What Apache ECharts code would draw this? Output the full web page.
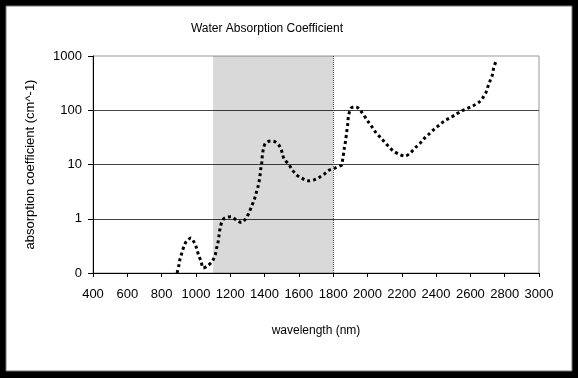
<!DOCTYPE html>
<html>
<head>
<meta charset="utf-8">
<title>Water Absorption Coefficient</title>
<script src="https://cdn.jsdelivr.net/npm/echarts@6/dist/echarts.min.js"></script>
<style>
body{margin:0;background:#000;}
#main{width:578px;height:378px;}
</style>
</head>
<body>
<div id="main"></div>
<script>
// wavelength (nm)
var wavelength = [890, 900, 907, 919, 931, 946, 971, 991, 1005, 1016, 1030, 1042, 1070, 1098,
    1113, 1121, 1129, 1135, 1141, 1150, 1166, 1203, 1236, 1265, 1292, 1311, 1325, 1339,
    1350, 1360, 1368, 1374, 1378, 1384, 1387, 1393, 1405, 1436, 1463, 1490, 1504, 1514,
    1541, 1562, 1588, 1617, 1652, 1689, 1720, 1747, 1778, 1811, 1840, 1848, 1856, 1865,
    1873, 1879, 1885, 1889, 1904, 1932, 1961, 2005, 2029, 2046, 2073, 2099, 2124, 2151,
    2186, 2218, 2248, 2283, 2307, 2330, 2359, 2388, 2418, 2447, 2476, 2511, 2548, 2579,
    2614, 2647, 2670, 2690, 2702, 2715, 2728, 2734, 2742, 2750];
// absorption coefficient (cm^-1)
var absorption = [0.1, 0.135, 0.18, 0.24, 0.315, 0.39, 0.44, 0.36, 0.28, 0.21, 0.165, 0.124, 0.136, 0.17,
    0.22, 0.29, 0.37, 0.5, 0.67, 0.85, 1.02, 1.09, 0.95, 0.85, 1.02, 1.33, 1.72, 2.2,
    2.9, 3.7, 4.8, 6.4, 8.3, 10.8, 14.5, 19, 24.5, 27, 26, 21.3, 16.1, 12.6,
    10.1, 7.9, 6.4, 5.6, 5.0, 5.2, 5.8, 6.6, 7.9, 8.6, 9.4, 9.6, 12.6, 20,
    28, 40, 56, 76, 109, 116, 97, 61, 48, 40, 32, 26, 21.3, 17.7,
    15.4, 14.3, 16.1, 21, 24.6, 30, 36.5, 44.5, 53, 63, 71, 82, 97, 107,
    120, 138, 166, 210, 272, 351, 447, 569, 692, 810];
// shaded band
var bandStart = 1100;
var bandEnd = 1800;

var pts = [];
for (var i = 0; i < wavelength.length; i++) {
    pts.push([wavelength[i], absorption[i]]);
}

var chart = echarts.init(document.getElementById('main'));
var fnt = 'Liberation Sans';
chart.setOption({
    backgroundColor: '#000',
    animation: false,
    graphic: [{
        type: 'rect',
        shape: {x: 6, y: 6, width: 566, height: 365},
        style: {fill: '#fff', stroke: '#777', lineWidth: 1},
        z: -10
    }],
    title: {
        text: 'Water Absorption Coefficient',
        left: 262,
        top: 18,
        textAlign: 'center',
        textStyle: {fontFamily: fnt, fontSize: 12, fontWeight: 'normal', color: '#000'}
    },
    grid: {
        left: 93, right: 39, top: 56, bottom: 105,
        show: true, borderColor: '#999', borderWidth: 1, backgroundColor: 'transparent'
    },
    xAxis: {
        type: 'value',
        min: 400, max: 3000, interval: 200,
        name: 'wavelength (nm)',
        nameLocation: 'middle',
        nameGap: 52,
        nameTextStyle: {fontFamily: fnt, fontSize: 12, color: '#000'},
        axisLine: {lineStyle: {color: '#000', width: 1}},
        axisTick: {length: 4, lineStyle: {color: '#000'}},
        axisLabel: {
            fontFamily: fnt, fontSize: 13, color: '#000', margin: 15,
            formatter: function (v) { return String(v); }
        },
        splitLine: {show: false}
    },
    yAxis: {
        type: 'log',
        logBase: 10,
        min: 0.1, max: 1000,
        splitNumber: 4,
        name: 'absorption coefficient (cm^-1)',
        nameLocation: 'middle',
        nameGap: 56,
        nameTextStyle: {fontFamily: fnt, fontSize: 13, color: '#000'},
        axisLine: {show: true, lineStyle: {color: '#000', width: 1}},
        axisTick: {show: true, length: 5, lineStyle: {color: '#000'}},
        axisLabel: {
            fontFamily: fnt, fontSize: 13, color: '#000', margin: 11,
            formatter: function (v) { return v < 1 ? '0' : String(Math.round(v)); }
        },
        splitLine: {show: true, showMaxLine: false, showMinLine: false, lineStyle: {color: '#444', width: 1}}
    },
    series: [{
        type: 'line',
        data: pts,
        smooth: 0.3,
        showSymbol: false,
        lineStyle: {color: '#000', width: 3, type: [3, 3]},
        markArea: {
            silent: true,
            itemStyle: {color: 'rgba(0,0,0,0.15)'},
            data: [[{xAxis: bandStart}, {xAxis: bandEnd}]]
        },
        markLine: {
            silent: true,
            symbol: 'none',
            label: {show: false},
            lineStyle: {color: '#444', width: 1, type: [1, 1]},
            data: [{xAxis: bandEnd}]
        }
    }]
});
</script>
</body>
</html>
